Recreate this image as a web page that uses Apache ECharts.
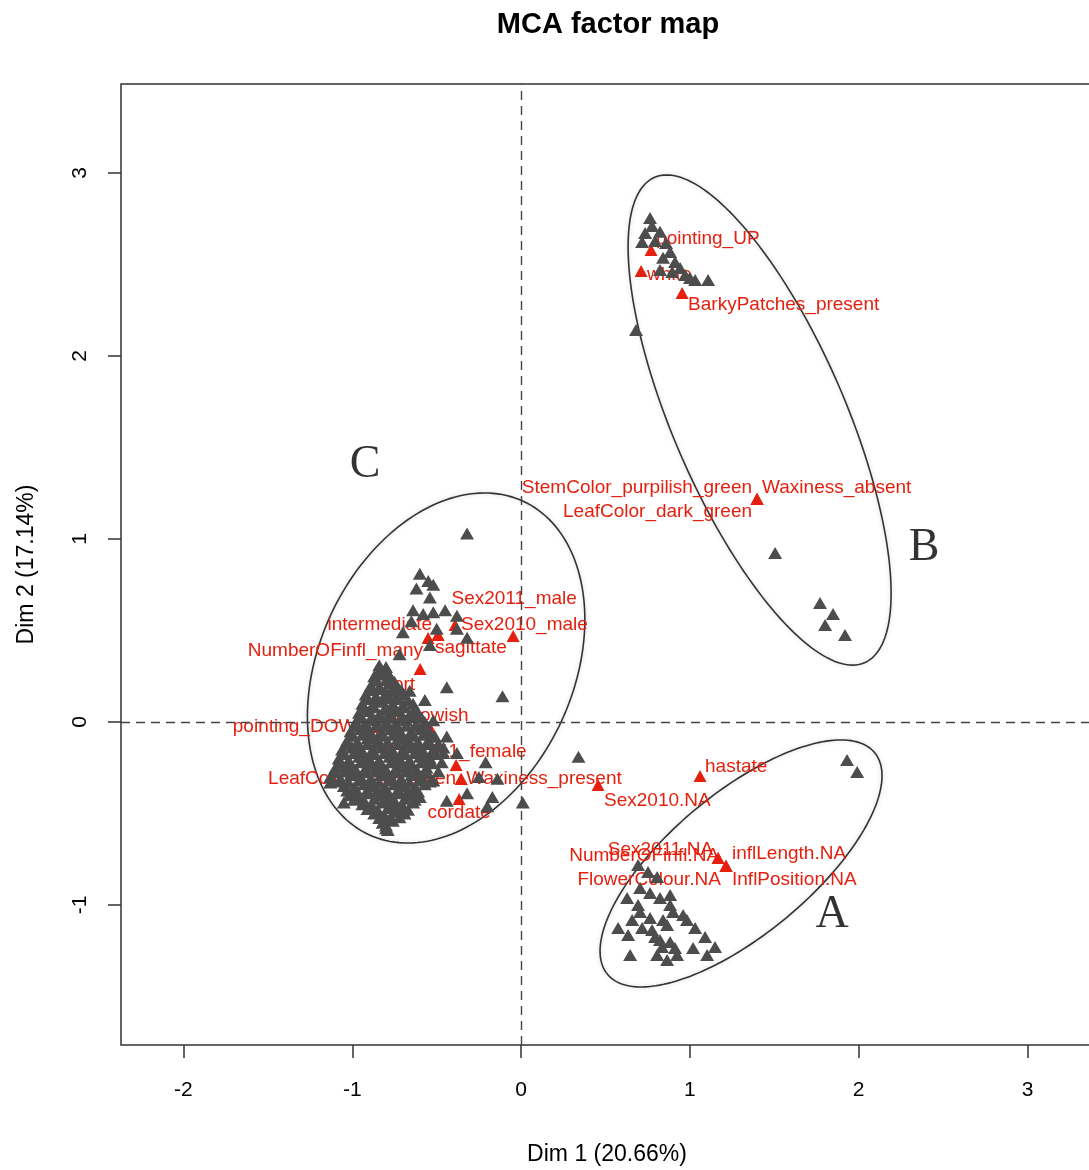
<!DOCTYPE html>
<html>
<head>
<meta charset="utf-8">
<script src="https://cdn.jsdelivr.net/npm/echarts@6/dist/echarts.min.js"></script>
<style>html,body{margin:0;padding:0;background:#fff;overflow:hidden}#c{width:1089px;height:1170px}</style>
</head>
<body>
<div id="c"></div>
<script>
// ---- axis ranges and ticks ----
const xTicks = [-2, -1, 0, 1, 2, 3];
const yTicks = [-1, 0, 1, 2, 3];
const xRange = [-2.37, 3.388];
const yRange = [-1.765, 3.486];

// ---- individuals (grey triangles) ----
const indivB = [
  [0.764,2.754],[0.776,2.710],[0.735,2.672],[0.823,2.678],[0.794,2.628],[0.859,2.617],
  [0.717,2.623],[0.883,2.568],[0.841,2.536],[0.912,2.514],[0.942,2.481],[1.001,2.426],
  [1.108,2.415],[0.895,2.459],[0.972,2.443],[1.031,2.415],[0.681,2.142],[0.823,2.470],
  [1.505,0.923],[1.771,0.650],[1.848,0.590],[1.801,0.530],[1.919,0.475]
];
const indivA = [
  [1.931,-0.208],[1.991,-0.273],
  [0.693,-0.781],[0.752,-0.820],[0.806,-0.847],[0.705,-0.907],[0.764,-0.934],[0.823,-0.962],
  [0.883,-0.945],[0.628,-0.962],[0.693,-1.000],[0.705,-1.038],[0.883,-1.000],[0.900,-1.038],
  [0.960,-1.055],[0.983,-1.082],[0.658,-1.082],[0.764,-1.071],[0.841,-1.082],[0.865,-1.109],
  [1.031,-1.126],[1.090,-1.175],[1.149,-1.230],[0.575,-1.126],[0.634,-1.164],[0.717,-1.126],
  [0.776,-1.137],[0.794,-1.175],[0.823,-1.191],[0.883,-1.202],[0.912,-1.235],[0.835,-1.230],
  [0.646,-1.273],[0.806,-1.273],[0.865,-1.301],[0.924,-1.273],[1.102,-1.273],[1.019,-1.235]
];
const indivCSparse = [
  [-0.32,1.03],[-0.60,0.81],[-0.55,0.77],[-0.62,0.73],[-0.52,0.75],[-0.54,0.68],
  [-0.64,0.61],[-0.58,0.59],[-0.52,0.60],[-0.45,0.61],[-0.38,0.58],[-0.65,0.55],
  [-0.50,0.51],[-0.38,0.51],[-0.32,0.46],[-0.70,0.49],[-0.54,0.42],[-0.72,0.37],
  [-0.44,0.19],[-0.11,0.14],[0.34,-0.19],[0.01,-0.44],[-0.17,-0.41],[-0.20,-0.46],
  [-0.21,-0.22],[-0.14,-0.31],[-0.25,-0.30],[-0.38,-0.17],[-0.44,-0.08],[-0.51,-0.08],
  [-0.46,-0.14],[-0.32,-0.39],[-0.44,-0.43],[-1.05,-0.44],[-1.13,-0.33],[-0.80,-0.58],
  [-0.52,0.01],[-0.57,0.12],[-0.66,0.17]
];
const indivCDense = [
  [-0.84,0.31],[-0.80,0.30],
  [-0.87,0.25],[-0.82,0.26],[-0.77,0.24],
  [-0.89,0.20],[-0.84,0.19],[-0.78,0.21],[-0.73,0.19],
  [-0.92,0.15],[-0.86,0.14],[-0.80,0.16],[-0.74,0.14],[-0.69,0.15],
  [-0.94,0.10],[-0.88,0.09],[-0.82,0.11],[-0.76,0.10],[-0.70,0.09],[-0.64,0.10],
  [-0.96,0.05],[-0.90,0.06],[-0.84,0.04],[-0.78,0.05],[-0.72,0.06],[-0.66,0.04],[-0.61,0.05],
  [-0.98,0.00],[-0.92,-0.01],[-0.86,0.01],[-0.80,0.00],[-0.74,-0.01],[-0.68,0.01],[-0.62,-0.01],[-0.57,0.00],
  [-1.01,-0.05],[-0.95,-0.04],[-0.89,-0.06],[-0.83,-0.05],[-0.77,-0.04],[-0.71,-0.06],[-0.65,-0.05],[-0.59,-0.04],[-0.54,-0.06],
  [-1.03,-0.10],[-0.97,-0.11],[-0.91,-0.09],[-0.85,-0.10],[-0.79,-0.11],[-0.73,-0.09],[-0.67,-0.10],[-0.61,-0.11],[-0.55,-0.10],[-0.49,-0.12],
  [-1.06,-0.15],[-1.00,-0.14],[-0.94,-0.16],[-0.88,-0.15],[-0.82,-0.14],[-0.76,-0.16],[-0.70,-0.15],[-0.64,-0.14],[-0.58,-0.16],[-0.52,-0.15],[-0.46,-0.17],
  [-1.08,-0.20],[-1.02,-0.21],[-0.96,-0.19],[-0.90,-0.20],[-0.84,-0.21],[-0.78,-0.19],[-0.72,-0.20],[-0.66,-0.21],[-0.60,-0.19],[-0.54,-0.20],[-0.47,-0.22],
  [-1.10,-0.25],[-1.04,-0.24],[-0.98,-0.26],[-0.92,-0.25],[-0.86,-0.24],[-0.80,-0.26],[-0.74,-0.25],[-0.68,-0.24],[-0.62,-0.26],[-0.56,-0.25],[-0.49,-0.27],
  [-1.13,-0.30],[-1.07,-0.31],[-1.01,-0.29],[-0.95,-0.30],[-0.89,-0.31],[-0.83,-0.29],[-0.77,-0.30],[-0.71,-0.31],[-0.65,-0.29],[-0.59,-0.30],[-0.52,-0.32],
  [-1.05,-0.35],[-0.99,-0.36],[-0.93,-0.34],[-0.87,-0.35],[-0.81,-0.36],[-0.75,-0.34],[-0.69,-0.35],[-0.63,-0.36],[-0.57,-0.34],
  [-1.02,-0.40],[-0.96,-0.41],[-0.90,-0.39],[-0.84,-0.40],[-0.78,-0.41],[-0.72,-0.39],[-0.66,-0.40],[-0.60,-0.41],
  [-0.94,-0.45],[-0.88,-0.46],[-0.82,-0.44],[-0.76,-0.45],[-0.70,-0.46],[-0.64,-0.44],
  [-0.87,-0.50],[-0.81,-0.51],[-0.75,-0.49],[-0.69,-0.50],
  [-0.82,-0.55],[-0.76,-0.54],
  [-0.79,-0.59],
  [-0.845,0.275],[-0.795,0.27],
  [-0.86,0.225],[-0.80,0.23],[-0.75,0.22],
  [-0.89,0.175],[-0.83,0.18],[-0.77,0.17],[-0.71,0.175],
  [-0.91,0.125],[-0.85,0.12],[-0.79,0.13],[-0.73,0.125],[-0.67,0.12],
  [-0.93,0.075],[-0.87,0.08],[-0.81,0.07],[-0.75,0.075],[-0.69,0.08],[-0.63,0.07],
  [-0.95,0.025],[-0.89,0.02],[-0.83,0.03],[-0.77,0.025],[-0.71,0.02],[-0.65,0.03],[-0.59,0.025],
  [-0.98,-0.025],[-0.92,-0.03],[-0.86,-0.02],[-0.80,-0.025],[-0.74,-0.03],[-0.68,-0.02],[-0.62,-0.025],[-0.56,-0.03],
  [-1.00,-0.075],[-0.94,-0.07],[-0.88,-0.08],[-0.82,-0.075],[-0.76,-0.07],[-0.70,-0.08],[-0.64,-0.075],[-0.58,-0.07],[-0.52,-0.08],
  [-1.03,-0.125],[-0.97,-0.13],[-0.91,-0.12],[-0.85,-0.125],[-0.79,-0.13],[-0.73,-0.12],[-0.67,-0.125],[-0.61,-0.13],[-0.55,-0.12],
  [-1.05,-0.175],[-0.99,-0.17],[-0.93,-0.18],[-0.87,-0.175],[-0.81,-0.17],[-0.75,-0.18],[-0.69,-0.175],[-0.63,-0.17],[-0.57,-0.18],[-0.51,-0.175],
  [-1.07,-0.225],[-1.01,-0.23],[-0.95,-0.22],[-0.89,-0.225],[-0.83,-0.23],[-0.77,-0.22],[-0.71,-0.225],[-0.65,-0.23],[-0.59,-0.22],[-0.53,-0.225],
  [-1.10,-0.275],[-1.04,-0.27],[-0.98,-0.28],[-0.92,-0.275],[-0.86,-0.27],[-0.80,-0.28],[-0.74,-0.275],[-0.68,-0.27],[-0.62,-0.28],[-0.56,-0.275],
  [-1.08,-0.325],[-1.02,-0.33],[-0.96,-0.32],[-0.90,-0.325],[-0.84,-0.33],[-0.78,-0.32],[-0.72,-0.325],[-0.66,-0.33],[-0.60,-0.32],[-0.54,-0.325],
  [-1.03,-0.375],[-0.97,-0.38],[-0.91,-0.37],[-0.85,-0.375],[-0.79,-0.38],[-0.73,-0.37],[-0.67,-0.375],[-0.61,-0.38],
  [-0.99,-0.425],[-0.93,-0.43],[-0.87,-0.42],[-0.81,-0.425],[-0.75,-0.43],[-0.69,-0.42],[-0.63,-0.425],
  [-0.91,-0.475],[-0.85,-0.48],[-0.79,-0.47],[-0.73,-0.475],[-0.67,-0.48],
  [-0.84,-0.525],[-0.78,-0.53],[-0.72,-0.52],
  [-0.80,-0.565]
];

// ---- categories (red triangles) ----
const catNames = [
  'pointing_UP','white','BarkyPatches_present',
  'StemColor_purpilish_green','Waxiness_absent','LeafColor_dark_green',
  'Sex2011_male','Sex2010_male','intermediate','NumberOFinfl_many','sagittate',
  'short','yellowish','pointing_DOWN','Sex2011_female',
  'LeafColor_pale_green','Waxiness_present','cordate',
  'Sex2010.NA','hastate','Sex2011.NA','NumberOFinfl.NA',
  'inflLength.NA','FlowerColour.NA','InflPosition.NA'
];
const catX = [0.770,0.711,0.954, 1.398,1.398,1.398, -0.047,-0.391,-0.492,-0.551,-0.492,
  -0.598,-0.539,-0.859,-0.385, -0.355,-0.355,-0.367, 0.456,1.060,1.167,1.167, 1.214,1.214,1.214];
const catY = [2.579,2.464,2.344, 1.219,1.219,1.219, 0.470,0.530,0.475,0.459,0.475,
  0.290,-0.033,-0.027,-0.235, -0.311,-0.311,-0.421, -0.344,-0.295,-0.743,-0.743, -0.787,-0.787,-0.787];

// ---- confidence ellipses: centre + two conjugate semi-axis vectors (data units) ----
const ellipseNames = ['A','B','C'];
const ellipseCenter = [[1.303,-0.773],[1.413,1.650],[-0.444,0.295]];
const ellipseAxisU = [[0.791,0.606],[0.622,-1.326],[0.457,0.911]];
const ellipseAxisV = [[-0.268,0.297],[0.469,0.187],[-0.683,0.291]];
const groupLetterPos = [[1.842,-1.055],[2.387,0.951],[-0.924,1.404]];

// ---- label layout (style only): [align, dx, dy] in pixels ----
const labelLayout = {
  'pointing_UP':['left',5,-11],'white':['left',6,4],'BarkyPatches_present':['left',6,12],
  'StemColor_purpilish_green':['right',-5,-11],'Waxiness_absent':['left',5,-11],'LeafColor_dark_green':['right',-5,13],
  'Sex2011_male':['center',1,-37],'Sex2010_male':['left',6,0],'intermediate':['right',-6,-10],
  'NumberOFinfl_many':['right',-5,13],'sagittate':['left',-3,13],'short':['right',-5,16],
  'yellowish':['center',0,-12],'pointing_DOWN':['right',-6,0],'Sex2011_female':['center',0,-13],
  'LeafColor_pale_green':['right',-5,0],'Waxiness_present':['left',5,0],'cordate':['center',0,14],
  'Sex2010.NA':['left',6,16],'hastate':['left',5,-9],'Sex2011.NA':['right',-5,-8],
  'NumberOFinfl.NA':['right',1,-2],'inflLength.NA':['left',6,-12],'FlowerColour.NA':['right',-5,14],
  'InflPosition.NA':['left',6,14]
};

const RED = '#e5200e';
const GREY = '#4d4d4d';
const FONT = '"Liberation Sans", Arial, sans-serif';

const catData = catNames.map((n, i) => {
  const l = labelLayout[n];
  return { name: n, value: [catX[i], catY[i]],
    label: { align: l[0], offset: [l[1], l[2]] } };
});

const chart = echarts.init(document.getElementById('c'), null, { renderer: 'canvas' });
chart.setOption({
  backgroundColor: '#ffffff',
  animation: false,
  title: {
    text: 'MCA factor map', left: 603, top: 5, textAlign: 'center',
    textStyle: { fontFamily: FONT, fontWeight: 'bold', fontSize: 29, color: '#000' }
  },
  grid: { left: 121, width: 972, top: 84, height: 961, show: true,
          outerBoundsMode: 'none', containLabel: false,
          borderColor: '#333', borderWidth: 1.5, backgroundColor: 'transparent' },
  xAxis: {
    type: 'value', min: xRange[0], max: xRange[1],
    name: 'Dim 1 (20.66%)', nameLocation: 'middle', nameGap: 98,
    nameTextStyle: { fontFamily: FONT, fontSize: 23, color: '#000' },
    axisLine: { show: false, onZero: false },
    splitLine: { show: false },
    axisTick: { show: true, customValues: xTicks, length: 13, lineStyle: { color: '#333', width: 1.5 } },
    axisLabel: { customValues: xTicks, margin: 35, fontFamily: FONT, fontSize: 21, color: '#000' }
  },
  yAxis: {
    type: 'value', min: yRange[0], max: yRange[1],
    name: 'Dim 2 (17.14%)', nameLocation: 'middle', nameGap: 83,
    nameTextStyle: { fontFamily: FONT, fontSize: 23, color: '#000' },
    axisLine: { show: false, onZero: false },
    splitLine: { show: false },
    axisTick: { show: true, customValues: yTicks, length: 13, lineStyle: { color: '#333', width: 1.5 } },
    axisLabel: { customValues: yTicks, rotate: 90, margin: 30, fontFamily: FONT, fontSize: 21, color: '#000' }
  },
  series: [
    {
      type: 'custom', name: 'ellipses', z: 1,
      coordinateSystem: 'cartesian2d',
      data: ellipseCenter.map((c, i) => ({ name: ellipseNames[i], value: c })),
      renderItem: function (params, api) {
        const i = params.dataIndex;
        const c = ellipseCenter[i], u = ellipseAxisU[i], v = ellipseAxisV[i];
        const pts = [];
        for (let k = 0; k < 180; k++) {
          const t = 2 * Math.PI * k / 180;
          const ct = Math.cos(t), st = Math.sin(t);
          pts.push(api.coord([c[0] + ct * u[0] + st * v[0], c[1] + ct * u[1] + st * v[1]]));
        }
        return { type: 'polygon', shape: { points: pts },
          style: { fill: 'none', stroke: '#333', lineWidth: 1.6,
                   shadowBlur: 4, shadowColor: 'rgba(0,0,0,0.18)' } };
      },
      markLine: {
        silent: true, symbol: ['none', 'none'], label: { show: false },
        lineStyle: { type: [9, 6], color: '#444', width: 1.4 },
        data: [{ xAxis: 0 }, { yAxis: 0 }]
      }
    },
    {
      type: 'scatter', name: 'categories', z: 2,
      symbol: 'triangle', symbolSize: [13, 12],
      itemStyle: { color: RED, opacity: 1 },
      label: { show: true, position: 'inside', verticalAlign: 'middle',
               formatter: p => p.name, fontFamily: FONT, fontSize: 19, color: RED },
      data: catData
    },
    {
      type: 'scatter', name: 'individuals', z: 3,
      symbol: 'triangle', symbolSize: [14, 12],
      itemStyle: { color: GREY, opacity: 1 },
      data: indivB.concat(indivA, indivCSparse, indivCDense)
    },
    {
      type: 'scatter', name: 'groups', z: 4,
      symbolSize: 0,
      label: { show: true, position: 'inside', formatter: p => p.name,
               fontFamily: '"Liberation Serif", "DejaVu Serif", serif', fontSize: 46, color: '#000' },
      data: groupLetterPos.map((p, i) => ({ name: ellipseNames[i], value: p }))
    }
  ]
});
</script>
</body>
</html>
